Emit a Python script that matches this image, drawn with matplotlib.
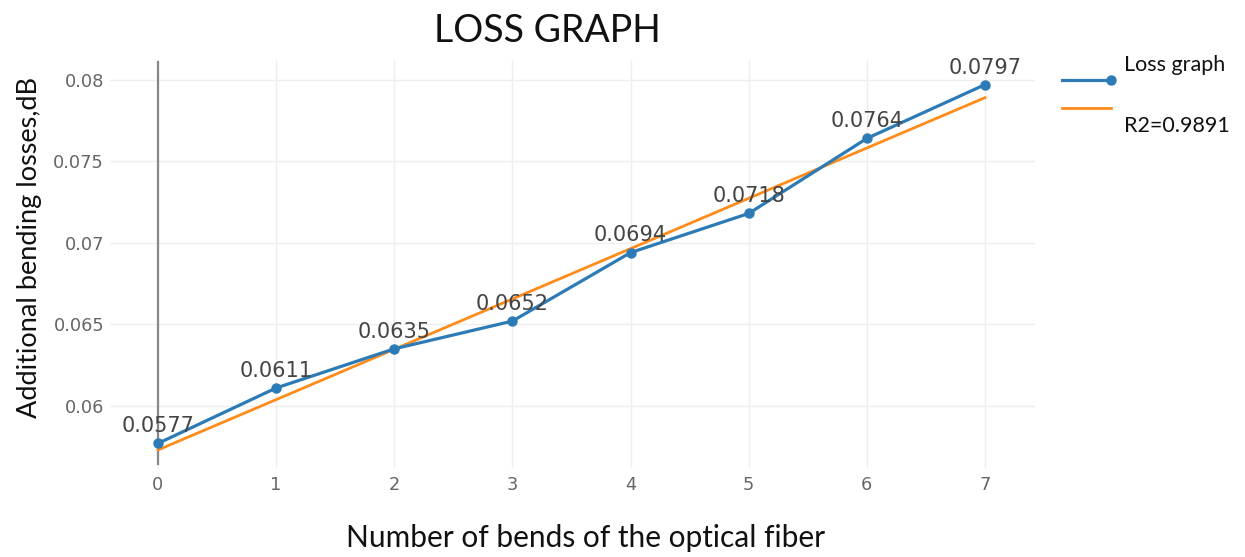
"""Loss graph: additional bending losses vs number of fiber bends."""

import matplotlib
matplotlib.use("Agg")
import matplotlib.pyplot as plt
from matplotlib.lines import Line2D

bends = [0, 1, 2, 3, 4, 5, 6, 7]
losses = [0.0577, 0.0611, 0.0635, 0.0652, 0.0694, 0.0718, 0.0764, 0.0797]

# linear trend (start/end)
trend_x = [0, 7]
trend_y = [0.0573, 0.0789]

y_ticks = [0.06, 0.065, 0.07, 0.075, 0.08]
y_tick_labels = ["0.06", "0.065", "0.07", "0.075", "0.08"]

BLUE = "#2c7bb6"
ORANGE = "#ff8c1a"

fig = plt.figure(figsize=(12.45, 5.57), dpi=100)
ax = fig.add_axes([0.088, 0.160, 0.743, 0.732])

ax.plot(bends, losses, color=BLUE, lw=2.3, marker="o", ms=6.5, zorder=3)
ax.plot(trend_x, trend_y, color=ORANGE, lw=2.0, zorder=2)

for x, y in zip(bends, losses):
    ax.annotate(f"{y:g}", (x, y), xytext=(0, 8), textcoords="offset points",
                ha="center", va="baseline", fontsize=15, color="#444444",
                family="DejaVu Sans", zorder=4)

ax.set_xlim(-0.41, 7.42)
ax.set_ylim(0.0562, 0.0812)
ax.set_xticks(bends)
ax.set_yticks(y_ticks)
ax.set_yticklabels(y_tick_labels)
ax.tick_params(length=0, labelsize=12.8, labelcolor="#666666")
ax.tick_params(axis="x", pad=6)
ax.tick_params(axis="y", pad=4)
for lab in ax.get_xticklabels() + ax.get_yticklabels():
    lab.set_family("DejaVu Sans")

ax.grid(True, color="#eeeeee", lw=1.0)
ax.set_axisbelow(True)
for side in ax.spines.values():
    side.set_visible(False)
ax.axvline(0, ymin=0.01, ymax=0.995, color="#888888", lw=1.6, zorder=1)

fig.text(0.440, 0.945, "LOSS GRAPH", ha="center", va="center",
         fontsize=27, family="Lato", color="#111111")
fig.text(0.470, 0.035, "Number of bends of the optical fiber", ha="center",
         va="center", fontsize=21.5, family="Lato", color="#111111")
fig.text(0.024, 0.555, "Additional bending losses,dB", ha="center", va="center",
         rotation=90, fontsize=19.5, family="Lato", color="#111111")

# legend drawn by hand to keep its offset layout
fig.add_artist(Line2D([0.853, 0.892], [0.856, 0.856], color=BLUE, lw=2.3,
                      marker="o", markevery=[1], ms=6.5,
                      transform=fig.transFigure))
fig.add_artist(Line2D([0.853, 0.892], [0.806, 0.806], color=ORANGE, lw=2.0,
                      transform=fig.transFigure))
fig.text(0.903, 0.884, "Loss graph", ha="left", va="center", fontsize=15.5,
         family="Lato", color="#111111")
fig.text(0.903, 0.773, "R2=0.9891", ha="left", va="center", fontsize=15.5,
         family="Lato", color="#111111")

fig.savefig("out.png", dpi=100)
